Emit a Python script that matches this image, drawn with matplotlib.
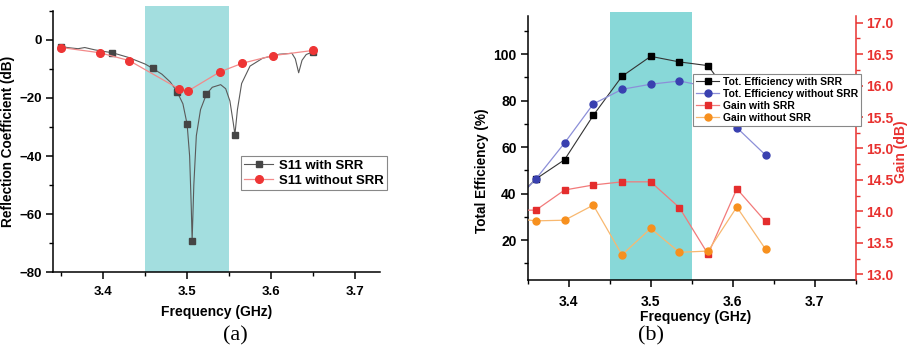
import matplotlib
matplotlib.use("Agg")
import matplotlib.pyplot as plt
from matplotlib.ticker import MultipleLocator

plt.rcParams["font.family"] = "Liberation Sans"
plt.rcParams["font.weight"] = "bold"

# (a) reflection coefficient
s11_srr_curve_f = [3.35, 3.36, 3.37, 3.378, 3.39, 3.40, 3.411, 3.43, 3.45, 3.459, 3.47, 3.48,
                   3.488, 3.495, 3.500, 3.503, 3.505, 3.506, 3.508, 3.511, 3.516, 3.523,
                   3.530, 3.540, 3.546, 3.551, 3.555, 3.557, 3.560, 3.565, 3.575, 3.59,
                   3.61, 3.625, 3.629, 3.633, 3.637, 3.642, 3.65]
s11_srr_curve = [-2.3, -2.7, -3.0, -2.6, -3.4, -3.9, -4.4, -6.0, -8.3, -9.8, -11.8, -14.5,
                 -17.8, -22.0, -29.0, -40.0, -58.0, -69.2, -50.0, -33.0, -24.0, -18.7,
                 -16.3, -15.4, -16.8, -21.0, -28.5, -32.6, -24.0, -15.0, -9.0, -6.3,
                 -4.9, -4.6, -6.5, -11.3, -7.0, -5.0, -4.1]
s11_srr_f = [3.35, 3.411, 3.459, 3.488, 3.500, 3.506, 3.523, 3.557, 3.65]
s11_srr = [-2.3, -4.4, -9.8, -17.8, -29.0, -69.2, -18.7, -32.6, -4.1]
s11_nosrr_f = [3.35, 3.396, 3.431, 3.490, 3.501, 3.539, 3.566, 3.602, 3.65]
s11_nosrr = [-2.6, -4.4, -7.1, -16.8, -17.6, -11.0, -8.0, -5.4, -3.6]

# (b) efficiency and gain
freq_b = [3.325, 3.36, 3.395, 3.43, 3.465, 3.50, 3.535, 3.57, 3.605, 3.64]
eff_srr = [34.0, 46.3, 54.6, 73.7, 90.5, 99.1, 96.7, 95.1, 78.0, 73.0]
eff_nosrr = [33.0, 46.3, 61.8, 78.6, 84.9, 87.1, 88.5, 86.0, 68.4, 56.6]
gain_srr = [14.02, 14.02, 14.34, 14.42, 14.47, 14.47, 14.06, 13.32, 14.36, 13.84]
gain_nosrr = [13.90, 13.85, 13.86, 14.10, 13.31, 13.73, 13.35, 13.37, 14.07, 13.40]

band = (3.45, 3.55)
red_axis = "#E8312F"

fig = plt.figure(figsize=(9.12, 3.49), dpi=100)


def style_axis(ax, size=9.5):
    ax.tick_params(which="major", direction="out", length=5, width=1.1, labelsize=size, pad=3)
    ax.tick_params(which="minor", direction="out", length=3, width=1.0)
    for lab in ax.get_xticklabels() + ax.get_yticklabels():
        lab.set_fontweight("bold")


# ---------- panel (a) ----------
ax1 = fig.add_axes([0.058, 0.2206, 0.3587, 0.7479])
ax1.axvspan(band[0], band[1], ymin=0, ymax=1.02, color="#A3DEDF", lw=0, zorder=0, clip_on=False)
ax1.plot(s11_srr_curve_f, s11_srr_curve, color="#5a5a5a", lw=0.8, zorder=2)
ax1.plot(s11_srr_f, s11_srr, ls="none", marker="s", ms=4.5, color="#454545", zorder=3)
ax1.plot(s11_nosrr_f, s11_nosrr, color="#F28A8A", lw=0.9, marker="o", ms=5.5,
         mfc="#EE3535", mec="#EE3535", zorder=3)
ax1.set_xlim(3.34, 3.73)
ax1.set_ylim(-80, 10)
ax1.xaxis.set_major_locator(MultipleLocator(0.1))
ax1.xaxis.set_minor_locator(MultipleLocator(0.05))
ax1.yaxis.set_major_locator(MultipleLocator(20))
ax1.yaxis.set_minor_locator(MultipleLocator(10))
ax1.spines["top"].set_visible(False)
ax1.spines["right"].set_visible(False)
for s in ("left", "bottom"):
    ax1.spines[s].set_linewidth(1.1)
style_axis(ax1)
ax1.tick_params(axis="x", pad=5)

h1 = plt.Line2D([], [], color="#5a5a5a", lw=0.8, marker="s", ms=4.5, mfc="#454545", mec="#454545")
h2 = plt.Line2D([], [], color="#F28A8A", lw=0.9, marker="o", ms=5.5, mfc="#EE3535", mec="#EE3535")
leg1 = ax1.legend([h1, h2], ["S11 with SRR", "S11 without SRR"], loc="upper left",
                  bbox_to_anchor=(0.575, 0.444), borderaxespad=0, fancybox=False,
                  edgecolor="#888888", framealpha=1, prop={"size": 9.5, "weight": "bold"},
                  handlelength=2.2, handletextpad=0.4, borderpad=0.25, labelspacing=0.2)
leg1.get_frame().set_linewidth(0.8)

fig.text(0.009, 0.595, "Reflection Coefficient (dB)", rotation=90, ha="center", va="center",
         fontsize=9.8, fontweight="bold")
fig.text(0.238, 0.106, "Frequency (GHz)", ha="center", va="center", fontsize=10, fontweight="bold")
fig.text(0.258, 0.037, "(a)", ha="center", va="center", fontsize=16,
         family="Liberation Serif", fontweight="normal")

# ---------- panel (b) ----------
ax2 = fig.add_axes([0.5786, 0.1977, 0.3597, 0.7573])
ax2.axvspan(band[0], band[1], ymin=0, ymax=1.013, color="#88D8D8", lw=0, zorder=0, clip_on=False)
ax2.plot(freq_b, eff_srr, color="#333333", lw=0.8, marker="s", ms=4.5,
         mfc="black", mec="black", zorder=2)
ax2.plot(freq_b, eff_nosrr, color="#8C8FD8", lw=0.9, marker="o", ms=5,
         mfc="#3940B0", mec="#3940B0", zorder=2)
ax2.set_xlim(3.35, 3.75)
ax2.set_ylim(2.8, 116.6)
ax2.xaxis.set_major_locator(MultipleLocator(0.1))
ax2.xaxis.set_minor_locator(MultipleLocator(0.05))
ax2.yaxis.set_minor_locator(MultipleLocator(10))
ax2.set_yticks([20, 40, 60, 80, 100])
ax2.spines["top"].set_visible(False)
ax2.spines["right"].set_visible(False)
for s in ("left", "bottom"):
    ax2.spines[s].set_linewidth(1.1)
style_axis(ax2, 10)
ax2.tick_params(axis="x", pad=6)

ax3 = ax2.twinx()
ax3.plot(freq_b, gain_srr, color="#F27A7A", lw=0.9, marker="s", ms=4.5,
         mfc="#E42D2D", mec="#E42D2D", zorder=2)
ax3.plot(freq_b, gain_nosrr, color="#F8B870", lw=0.9, marker="o", ms=5,
         mfc="#F7901E", mec="#F7901E", zorder=2)
ax3.set_xlim(3.35, 3.75)
ax3.set_ylim(12.91, 17.11)
ax3.yaxis.set_major_locator(MultipleLocator(0.5))
ax3.yaxis.set_minor_locator(MultipleLocator(0.25))
ax3.yaxis.set_major_formatter(matplotlib.ticker.FormatStrFormatter("%.1f"))
for s in ("top", "left", "bottom"):
    ax3.spines[s].set_visible(False)
ax3.spines["right"].set_color(red_axis)
ax3.spines["right"].set_linewidth(1.1)
ax3.tick_params(axis="y", which="both", colors=red_axis)
style_axis(ax3, 10)
ax3.tick_params(axis="y", pad=2.5)

hb = [
    plt.Line2D([], [], color="#333333", lw=0.8, marker="s", ms=4.5, mfc="black", mec="black"),
    plt.Line2D([], [], color="#8C8FD8", lw=0.9, marker="o", ms=5, mfc="#3940B0", mec="#3940B0"),
    plt.Line2D([], [], color="#F27A7A", lw=0.9, marker="s", ms=4.5, mfc="#E42D2D", mec="#E42D2D"),
    plt.Line2D([], [], color="#F8B870", lw=0.9, marker="o", ms=5, mfc="#F7901E", mec="#F7901E"),
]
leg2 = ax3.legend(hb, ["Tot. Efficiency with SRR", "Tot. Efficiency without SRR",
                       "Gain with SRR", "Gain without SRR"],
                  loc="upper left", bbox_to_anchor=(0.504, 0.7805), borderaxespad=0,
                  fancybox=False, edgecolor="#888888", framealpha=1,
                  prop={"size": 7.5, "weight": "bold"}, handlelength=2.2,
                  handletextpad=0.4, borderpad=0.3, labelspacing=0.2)
leg2.get_frame().set_linewidth(0.8)

fig.text(0.528, 0.51, "Total Efficiency (%)", rotation=90, ha="center", va="center",
         fontsize=9.8, fontweight="bold")
fig.text(0.988, 0.565, "Gain (dB)", rotation=90, ha="center", va="center",
         fontsize=10, fontweight="bold", color=red_axis)
fig.text(0.763, 0.092, "Frequency (GHz)", ha="center", va="center", fontsize=10, fontweight="bold")
fig.text(0.714, 0.038, "(b)", ha="center", va="center", fontsize=16,
         family="Liberation Serif", fontweight="normal")

fig.savefig("out.png", dpi=100)
